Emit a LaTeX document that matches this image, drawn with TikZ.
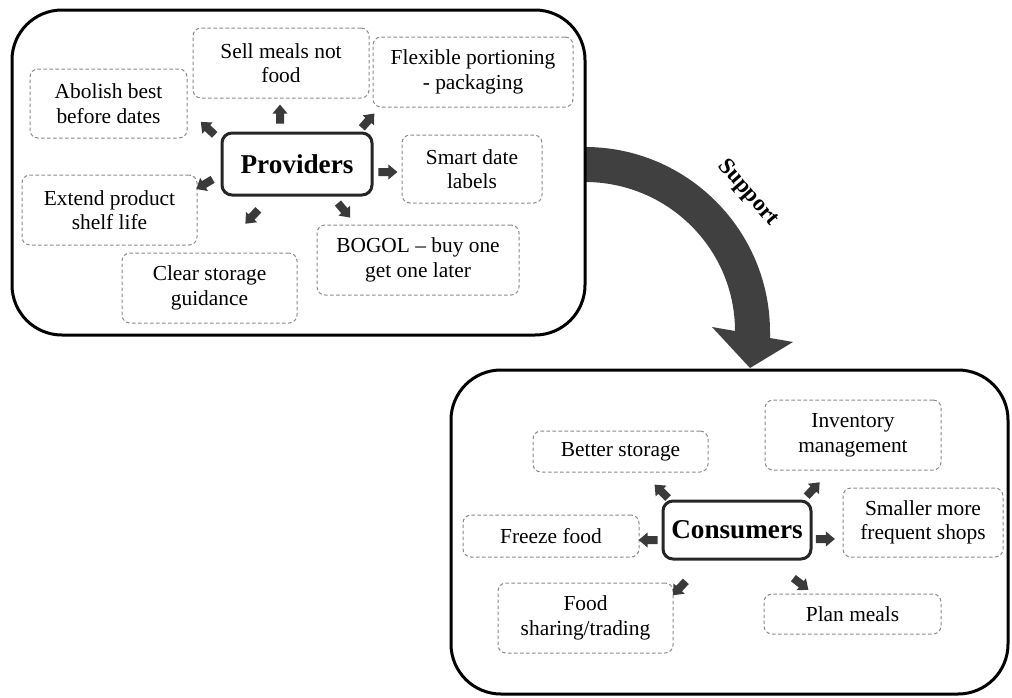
\documentclass[tikz,border=0pt]{standalone}
\usepackage{fontspec}
\setmainfont{Liberation Serif}
\usetikzlibrary{shapes.arrows}
\definecolor{pointergray}{HTML}{3A3A3A}
\definecolor{flowgray}{HTML}{404040}
\definecolor{dashgray}{HTML}{8A8A8A}
\begin{document}
\begin{tikzpicture}[x=0.5pt,y=-0.5pt,
  panel/.style={draw=black, line width=1.5pt, rounded corners=25pt, inner sep=0pt},
  idea/.style={draw=dashgray, line width=0.5pt, dash pattern=on 1.8pt off 1.2pt,
    rounded corners=4pt, align=center, inner sep=0pt,
    font=\fontsize{10.7}{12.3}\selectfont},
  hub/.style={draw=black!85, line width=1.5pt, rounded corners=5pt, inner sep=0pt,
    font=\bfseries\fontsize{13.6}{16}\selectfont},
  pointer/.style={single arrow, fill=pointergray, draw=none, inner sep=0pt,
    text height=3.6pt, text depth=0pt, text width=0pt,
    minimum height=9.5pt, single arrow head extend=1.8pt,
    single arrow tip angle=80, anchor=center}
]
\useasboundingbox (0,0) rectangle (1012,697);

% curved "Support" arrow from the providers panel to the consumers panel
\fill[flowgray] (585,147) .. controls (687,147) and (770,230) .. (770,332)
  -- (770,338) -- (793,342) -- (750,368) -- (712,327) -- (735,331)
  .. controls (735,249) and (668,182) .. (585,182) -- cycle;
\node[font=\bfseries\fontsize{11.5}{13}\selectfont, rotate=-49] (supportlabel) at (748,193) {Support};

% two panels
\node[panel, minimum width=286.5pt, minimum height=162.5pt] (provpanel) at (298.5,172.5) {};
\node[panel, minimum width=278.5pt, minimum height=162pt] (conspanel) at (729.5,532) {};

% providers side
\node[hub, minimum width=75pt, minimum height=31pt] (providers) at (297,164) {Providers};
\node[idea, minimum width=78.5pt, minimum height=34.5pt] (abolish) at (108.5,103.5) {Abolish best\\before dates};
\node[idea, minimum width=88pt, minimum height=35pt] (sellmeals) at (281,63) {Sell meals not\\food};
\node[idea, minimum width=100pt, minimum height=35pt] (flexible) at (473,72) {Flexible portioning\\- packaging};
\node[idea, minimum width=70pt, minimum height=34pt] (smartdate) at (472,169) {Smart date\\labels};
\node[idea, minimum width=101pt, minimum height=35pt] (bogol) at (418,260) {BOGOL – buy one\\get one later};
\node[idea, minimum width=87.5pt, minimum height=35pt] (clearstorage) at (209.5,288) {Clear storage\\guidance};
\node[idea, minimum width=87.5pt, minimum height=35pt] (extend) at (109.5,210) {Extend product\\shelf life};

\node[pointer, rotate=90]    (pup)  at (280,116.5) {};
\node[pointer, rotate=137]   (pul)  at (209.5,130) {};
\node[pointer, rotate=49]    (pur)  at (366.5,122.5) {};
\node[pointer, rotate=0]     (pr)   at (385.5,172) {};
\node[pointer, rotate=210.5] (pl)   at (206.5,183) {};
\node[pointer, rotate=227]   (pdl)  at (253.5,215) {};
\node[pointer, rotate=-50]   (pdr)  at (342.5,208.5) {};

% consumers side
\node[hub, minimum width=74pt, minimum height=29pt] (consumers) at (737,530) {Consumers};
\node[idea, minimum width=87.5pt, minimum height=20.5pt] (betterstorage) at (620.5,451.5) {Better storage};
\node[idea, minimum width=88pt, minimum height=21pt] (freeze) at (551,536) {Freeze food};
\node[idea, minimum width=87.5pt, minimum height=35pt] (sharing) at (585.5,618) {Food\\sharing/trading};
\node[idea, minimum width=88pt, minimum height=35pt] (inventory) at (853,435) {Inventory\\management};
\node[idea, minimum width=80pt, minimum height=34.5pt] (smaller) at (923,522.5) {Smaller more\\frequent shops};
\node[idea, minimum width=88.5pt, minimum height=20pt] (planmeals) at (852.5,614) {Plan meals};

\node[pointer, rotate=135] (cul) at (663,493) {};
\node[pointer, rotate=180] (cl)  at (650.5,540) {};
\node[pointer, rotate=227] (cdl) at (681,586.5) {};
\node[pointer, rotate=47]  (cur) at (811.5,491) {};
\node[pointer, rotate=0]   (cr)  at (823,539) {};
\node[pointer, rotate=-38] (cdr) at (799,582.5) {};
\end{tikzpicture}
\end{document}
